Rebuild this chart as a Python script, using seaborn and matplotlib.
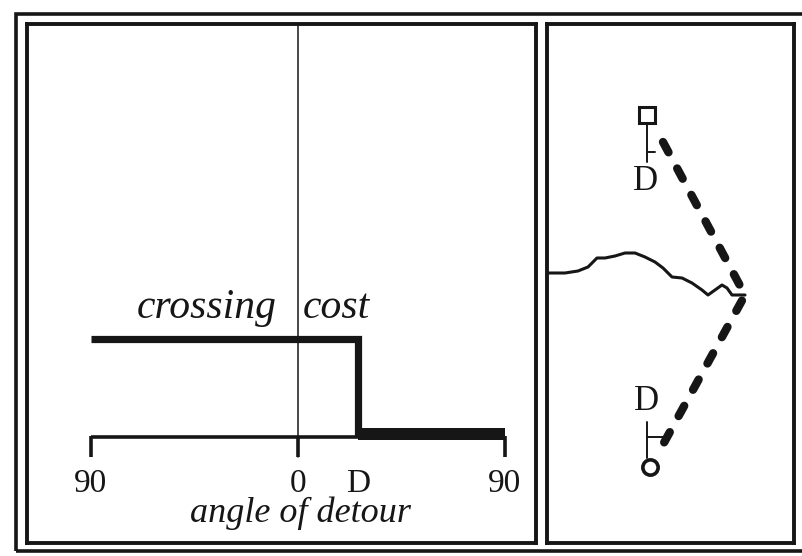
import numpy as np
import matplotlib
matplotlib.use("Agg")
import matplotlib.pyplot as plt
from matplotlib.patches import Rectangle
import seaborn as sns

# ---- left panel: crossing cost vs angle of detour ----
angle_ticks = [-90, 0, 26, 90]
tick_labels = ["90", "0", "D", "90"]
step_angle = [-90, 26, 26]          # high cost up to the detour limit D
step_cost = [1.0, 1.0, 0.0]
low_angle = [26, 90]                # small cost beyond D
low_cost = [0.09, 0.09]

# ---- right panel: path, crossing point and detour (panel units) ----
path_x = [0, 5, 18, 31, 41, 50, 58, 68, 78, 88, 98, 108, 116, 125, 135,
          145, 155, 161, 168, 175, 180, 185, 191, 198]
path_y = [270, 270, 270, 272, 276, 285, 285, 287, 290, 290, 286, 281, 275,
          266, 265, 260, 253, 248, 253, 258, 255, 248, 248, 248]
detour_x = [116, 198, 113]
detour_y = [401, 248, 93]
start_pt = (100, 428)
end_pt = (103, 76)

INK = "#161616"

sns.set_theme(style="white")
plt.rcParams["font.family"] = ["Liberation Serif", "DejaVu Serif"]

W, H = 803, 556
fig = plt.figure(figsize=(W / 100, H / 100), dpi=100)


def fig_rect(x0, y0, x1, y1):
    # pixel box -> figure fraction [left, bottom, width, height]
    return [x0 / W, 1 - y1 / H, (x1 - x0) / W, (y1 - y0) / H]


# outer frame
l, b, w, h = fig_rect(16.5, 13.5, 812, 551)
fig.patches.append(Rectangle((l, b), w, h, transform=fig.transFigure,
                             fill=False, lw=2.6, ec=INK))

ax1 = fig.add_axes(fig_rect(27, 24, 536, 543))
ax2 = fig.add_axes(fig_rect(547, 24, 794, 543))
for ax in (ax1, ax2):
    ax.set_xticks([])
    ax.set_yticks([])
    ax.set_facecolor("white")
    for sp in ax.spines.values():
        sp.set_color(INK)
        sp.set_linewidth(2.8)

# left panel coordinates
ax1.set_xlim(-117.8, 103.5)
ax1.set_ylim(-1.076, 4.193)

# vertical reference line at 0
ax1.plot([0, 0], [-0.2, 4.3], color=INK, lw=1.1)
# axis baseline and ticks
ax1.plot([-90, 90], [0, 0], color=INK, lw=2.6, solid_capstyle="butt")
for a in [-90, 0, 90]:
    ax1.plot([a, a], [0.01, -0.2], color=INK, lw=2.6, solid_capstyle="butt")

# step of crossing cost
sns.lineplot(x=step_angle, y=step_cost, ax=ax1, sort=False, estimator=None,
             color=INK, lw=5.2, solid_capstyle="butt", solid_joinstyle="miter")
ax1.fill_between(low_angle, [-0.03, -0.03], low_cost, color=INK, lw=0)

for a, lab in zip(angle_ticks, tick_labels):
    ax1.text(a, -0.56, lab, ha="center", va="baseline", fontsize=24, color=INK)
ax1.text(0.9, -0.86, "angle of detour", ha="center", va="baseline",
         fontsize=26, style="italic", color=INK)
ax1.text(-9.1, 1.21, "crossing", ha="right", va="baseline",
         fontsize=30, style="italic", color=INK)
ax1.text(2.2, 1.21, "cost", ha="left", va="baseline",
         fontsize=30, style="italic", color=INK)

# right panel
ax2.set_xlim(0, 247)
ax2.set_ylim(0, 519)

sns.lineplot(x=path_x, y=path_y, ax=ax2, sort=False, estimator=None,
             color=INK, lw=2.2)
ax2.plot(detour_x, detour_y, color=INK, lw=6.0,
         dashes=(1.4, 2.2), dash_capstyle="round")

# start marker with its D offset
ax2.plot([start_pt[0], start_pt[0]], [start_pt[1] - 10, start_pt[1] - 47],
         color=INK, lw=1.4)
ax2.plot([start_pt[0], start_pt[0] + 8], [start_pt[1] - 37, start_pt[1] - 37],
         color=INK, lw=1.4)
ax2.plot(*start_pt, marker="s", ms=11.5, mfc="white", mec=INK, mew=2.2)
ax2.text(start_pt[0] - 1, start_pt[1] - 67, "D", ha="center", va="center",
         fontsize=25, color=INK)

# end marker with its D offset
ax2.plot([end_pt[0] - 3, end_pt[0] - 3], [end_pt[1] + 9, end_pt[1] + 45],
         color=INK, lw=1.4)
ax2.plot([end_pt[0] - 3, end_pt[0] + 15], [end_pt[1] + 30, end_pt[1] + 30],
         color=INK, lw=1.4)
ax2.plot(*end_pt, marker="o", ms=11.0, mfc="white", mec=INK, mew=2.6)
ax2.text(end_pt[0] - 3, end_pt[1] + 65, "D", ha="center", va="center",
         fontsize=25, color=INK)

fig.savefig("out.png", dpi=100)
